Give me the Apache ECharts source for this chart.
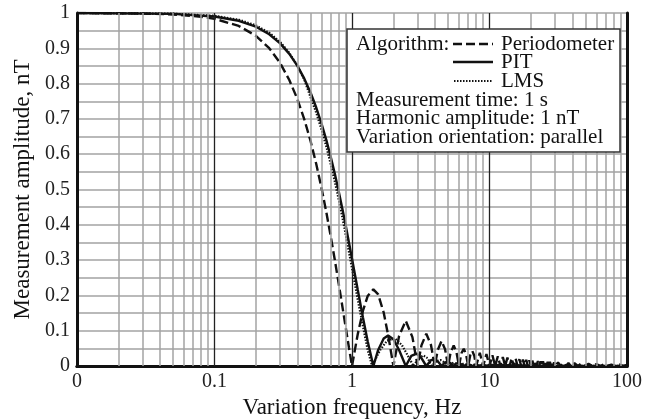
<!DOCTYPE html>
<html>
<head>
<meta charset="utf-8">
<script src="https://cdn.jsdelivr.net/npm/echarts@6/dist/echarts.min.js"></script>
<style>
html,body{margin:0;padding:0;background:#fff;}
#chart{width:656px;height:419px;}
</style>
</head>
<body>
<div id="chart"></div>
<script>
// ---- data ----
const perFreq = [0.01,0.03,0.05,0.08,0.1,0.15,0.2,0.25,0.3,0.35,0.4,0.45,0.5,0.55,0.6,0.65,0.7,0.75,0.8,0.85,0.9,0.95,1.0,
  1.1,1.2,1.3,1.43,1.55,1.7,1.85,2.0,2.2,2.46,2.75,3.0,3.2,3.47,3.75,4.0,4.2,4.48,4.75,5.0,5.2,5.49,5.75,6.0,6.25,6.5,6.75,7,7.25,7.5,7.75,8,8.5,9,9.5,10,
  10.5,11,11.5,12,12.5,13,13.5,14,14.5,15,15.5,16,16.5,17,17.5,18,18.5,19,19.5,20,20.5,21,21.5,22,22.5,23,23.5,24,24.5,25,25.5,26,26.5,27,27.5,28,28.5,29,29.5,30,
  31.5,33,34.5,36,37.5,39,41.5,44,46.5,49,52.5,56,60,64,68,72,77,82,88,94,100];
const perVals = [1.0,0.9985,0.9959,0.9895,0.9836,0.9634,0.9355,0.9003,0.8584,0.8103,0.7568,0.6987,0.6366,0.5716,0.5046,0.4363,0.3679,0.3001,0.2339,0.1700,0.1093,0.0524,0,
  0.0894,0.1559,0.1981,0.2172,0.2028,0.1515,0.0781,0,0.0850,0.1280,0.0818,0,0.0585,0.0916,0.0600,0,0.0446,0.0710,0.0474,0,0.036,0.058,0.0391,0,0.036,0.049,0.0333,0,0.031,0.0424,0.029,0,0.0374,0,0.0335,0,
  0.0303,0,0.0277,0,0.0255,0,0.0236,0,0.0220,0,0.0205,0,0.0193,0,0.0182,0,0.0172,0,0.0163,0,0.0155,0,0.0148,0,0.0141,0,0.0135,0,0.0130,0,0.0125,0,0.0120,0,0.0116,0,0.0112,0,0.0108,0,
  0.0101,0,0.0092,0,0.0085,0,0.0077,0,0.0068,0,0.0061,0,0.0053,0,0.0047,0,0.0041,0,0.0036,0,0.003];

const pitFreq = [0.01,0.05,0.1,0.15,0.2,0.25,0.3,0.35,0.4,0.45,0.5,0.55,0.6,0.65,0.7,0.75,0.8,0.85,0.9,0.95,1.0,
  1.1,1.2,1.3,1.43,1.55,1.7,1.83,2.0,2.2,2.46,2.7,2.95,3.2,3.47,3.75,4.0,4.25,4.48,4.75,5.0,5.25,5.48,5.75,6.0,6.25,6.48,7.0,7.49,8.0,8.49,9.0,9.5,10,20,100];
const pitVals = [1.0,0.9975,0.9902,0.978,0.9611,0.9397,0.914,0.8842,0.8508,0.8139,0.774,0.7315,0.6869,0.6405,0.5928,0.5443,0.4953,0.4464,0.398,0.350,0.304,
  0.2165,0.1379,0.0701,0,0.0455,0.0777,0.0865,0.076,0.0455,0,0.0285,0.0351,0.0223,0,0.0166,0.019,0.011,0,0.0102,0.0122,0.007,0,0.0074,0.0084,0.005,0,0.0062,0,0.0047,0,0.0038,0,0.003,0.0008,0];

const lmsFreq = [0.01,0.05,0.1,0.15,0.2,0.25,0.3,0.35,0.4,0.45,0.5,0.55,0.6,0.65,0.7,0.75,0.8,0.85,0.9,0.95,1.0,
  1.1,1.2,1.3,1.4,1.6,1.8,2.05,2.3,2.5,2.8,3.05,3.3,3.55,3.8,4.1,4.4,4.7,5.0,5.5,6,6.5,7,8,9,10,20,100];
const lmsVals = [1.0,0.998,0.992,0.981,0.965,0.944,0.918,0.887,0.851,0.811,0.761,0.717,0.670,0.622,0.572,0.522,0.472,0.422,0.372,0.323,0.277,
  0.189,0.113,0.046,0,0.045,0.072,0.078,0.06,0.035,0,0.022,0.03,0.022,0,0.014,0.017,0.01,0,0.01,0,0.007,0,0.005,0,0.003,0.001,0];

const xTickLabels = {0.01:'0', 0.1:'0.1', 1:'1', 10:'10', 100:'100'};
const yTickLabels = ['0','0.1','0.2','0.3','0.4','0.5','0.6','0.7','0.8','0.9','1'];

const legendAlgos = ['Periodometer','PIT','LMS'];
const legendNotes = ['Measurement time: 1 s','Harmonic amplitude: 1 nT','Variation orientation: parallel'];

// ---- build ----
function pairs(fs, vs){ return fs.map((f,i)=>[f, vs[i]]); }
const FONT = '"Liberation Serif", "Times New Roman", serif';
const INK = '#111';
const GRID_GREY = '#a3a3a3';

const minorX = [], majorX = [0.1, 1, 10];
[0.01, 0.1, 1, 10].forEach(d => { for (let k = 2; k <= 9; k++) minorX.push(+(d*k).toPrecision(3)); });

const chart = echarts.init(document.getElementById('chart'), null, {renderer:'canvas'});
const G = {left:77, right:29, top:13, bottom:53};

const lx = 347, ly = 29, lw = 273, lh = 123;
const LF = '21px ' + FONT;
const graphic = [
  {type:'rect', shape:{x:lx, y:ly, width:lw, height:lh}, style:{fill:'#fff', stroke:'#333', lineWidth:1.5}, z:50},
  {type:'text', x:356, y:44, style:{text:'Algorithm:', font:LF, fill:INK, verticalAlign:'middle', textVerticalAlign:'middle'}, z:51},
  {type:'line', shape:{x1:453, y1:44, x2:493, y2:44}, style:{stroke:INK, lineWidth:2.4, lineDash:[9,4]}, z:51},
  {type:'line', shape:{x1:453, y1:62, x2:493, y2:62}, style:{stroke:INK, lineWidth:2.4}, z:51},
  {type:'line', shape:{x1:454, y1:81, x2:493, y2:81}, style:{stroke:INK, lineWidth:2, lineDash:[1.5,1.5]}, z:51}
];
legendAlgos.forEach((t,i)=>graphic.push({type:'text', x:501, y:[44,62,81][i], style:{text:t, font:LF, fill:INK, verticalAlign:'middle', textVerticalAlign:'middle'}, z:51}));
legendNotes.forEach((t,i)=>graphic.push({type:'text', x:356, y:100+i*18.7, style:{text:t, font:LF, fill:INK, verticalAlign:'middle', textVerticalAlign:'middle'}, z:51}));

const option = {
  backgroundColor:'#fff',
  animation:false,
  grid:{left:G.left, right:G.right, top:G.top, bottom:G.bottom, show:false, containLabel:false, outerBoundsMode:'none'},
  xAxis:[{
    type:'log', logBase:10, min:0.01, max:100,
    name:'Variation frequency, Hz', nameLocation:'middle', nameGap:26,
    nameTextStyle:{fontFamily:FONT, fontSize:23, color:INK},
    axisLine:{show:true, onZero:false, lineStyle:{color:INK, width:3}},
    axisTick:{show:false}, splitLine:{show:false}, minorTick:{show:false}, minorSplitLine:{show:false},
    axisLabel:{fontFamily:FONT, fontSize:20, color:'#222', margin:6,
      formatter: v => xTickLabels[+(+v).toPrecision(3)] !== undefined ? xTickLabels[+(+v).toPrecision(3)] : ''}
  },{
    type:'log', logBase:10, min:0.01, max:100, position:'top',
    axisLine:{show:true, lineStyle:{color:INK, width:3}}, axisTick:{show:false}, axisLabel:{show:false}, splitLine:{show:false}
  }],
  yAxis:[{
    type:'value', min:0, max:1, interval:0.1,
    name:'Measurement amplitude, nT', nameLocation:'middle', nameGap:37,
    nameTextStyle:{fontFamily:FONT, fontSize:23, color:INK},
    axisLine:{show:true, lineStyle:{color:INK, width:3}},
    axisTick:{show:false},
    axisLabel:{fontFamily:FONT, fontSize:20, color:'#222', margin:7, formatter:(v)=>yTickLabels[Math.round(v*10)]},
    splitLine:{show:true, lineStyle:{color:GRID_GREY, width:1.5}},
    minorTick:{show:false, splitNumber:2},
    minorSplitLine:{show:true, lineStyle:{color:GRID_GREY, width:1.5}}
  },{
    type:'value', min:0, max:1, position:'right',
    axisLine:{show:true, lineStyle:{color:INK, width:3}}, axisTick:{show:false}, axisLabel:{show:false}, splitLine:{show:false}
  }],
  graphic: graphic,
  series:[
    {type:'line', data:[], z:1, silent:true,
      markLine:{silent:true, symbol:['none','none'], label:{show:false},
        data:[
          ...minorX.map(v=>({xAxis:v, lineStyle:{color:GRID_GREY, width:1.5, type:'solid'}})),
          ...majorX.map(v=>({xAxis:v, lineStyle:{color:'#222', width:1.3, type:'solid'}}))
        ]}},
    {name:'Periodometer', type:'line', data:pairs(perFreq, perVals), showSymbol:false, z:3,
      lineStyle:{color:INK, width:2.4, type:[9,4]}},
    {name:'PIT', type:'line', data:pairs(pitFreq, pitVals), showSymbol:false, z:4,
      lineStyle:{color:INK, width:2.4, type:'solid'}},
    {name:'LMS', type:'line', data:pairs(lmsFreq, lmsVals), showSymbol:false, z:3,
      lineStyle:{color:INK, width:2.2, type:[1.5,1.5]}}
  ]
};
chart.setOption(option);
</script>
</body>
</html>
